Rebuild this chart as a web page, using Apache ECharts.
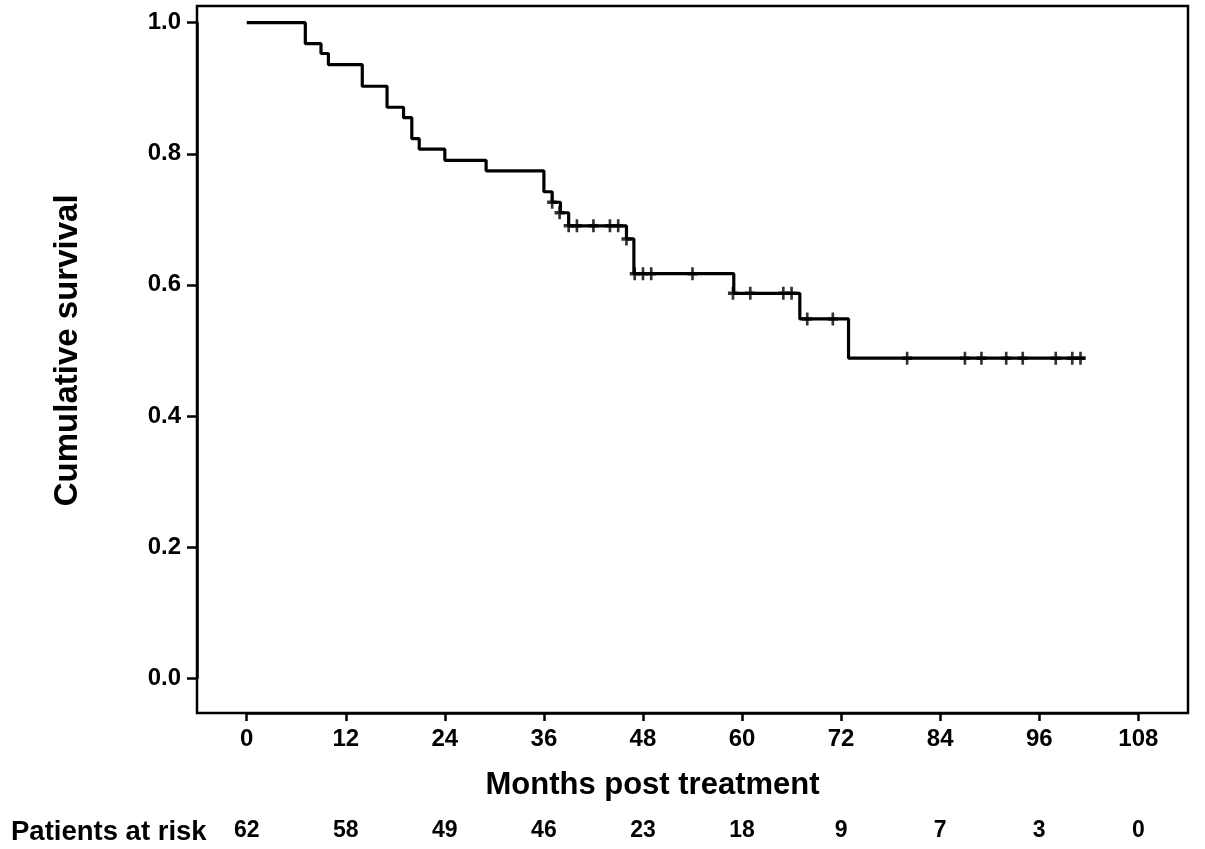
<!DOCTYPE html>
<html>
<head>
<meta charset="utf-8">
<script src="https://cdn.jsdelivr.net/npm/echarts@6/dist/echarts.min.js"></script>
<style>
html,body{margin:0;padding:0;background:#fff;}
#chart{width:1205px;height:849px;}
</style>
</head>
<body>
<div id="chart"></div>
<script>
// Kaplan-Meier step points: time (months) and survival after event
const stepTimes = [0, 7.1, 9.0, 9.9, 14.0, 17.0, 19.0, 20.0, 20.9, 24.0, 29.0, 36.0, 37.0, 38.0, 39.0, 46.0, 46.9, 59.0, 67.0, 72.9, 101.6];
const stepSurvival = [1.0, 0.968, 0.953, 0.936, 0.903, 0.871, 0.855, 0.823, 0.807, 0.790, 0.774, 0.742, 0.726, 0.710, 0.690, 0.670, 0.617, 0.587, 0.548, 0.488, 0.488];
// Censored observations
const censorTimes = [37.0, 37.9, 39.0, 40.0, 42.0, 44.0, 45.0, 46.0, 47.0, 48.0, 49.0, 54.0, 58.9, 61.0, 65.0, 66.0, 67.9, 71.0, 80.0, 87.0, 89.0, 92.0, 94.0, 98.0, 100.0, 101.0];
const censorSurvival = [0.726, 0.710, 0.690, 0.690, 0.690, 0.690, 0.690, 0.670, 0.617, 0.617, 0.617, 0.617, 0.587, 0.587, 0.587, 0.587, 0.548, 0.548, 0.488, 0.488, 0.488, 0.488, 0.488, 0.488, 0.488, 0.488];
// X ticks and patients at risk
const xTicks = [0, 12, 24, 36, 48, 60, 72, 84, 96, 108];
const atRisk = [62, 58, 49, 46, 23, 18, 9, 7, 3, 0];
const yTicks = ['0.0', '0.2', '0.4', '0.6', '0.8', '1.0'];

const FONT = '"Liberation Sans", Arial, sans-serif';
const chart = echarts.init(document.getElementById('chart'), null, {renderer: 'canvas'});

const lineData = stepTimes.map((t, i) => [t, stepSurvival[i]]);
const censorData = censorTimes.map((t, i) => [t, censorSurvival[i]]);

const option = {
  backgroundColor: '#fff',
  animation: false,
  title: {
    text: 'Patients at risk',
    left: 11, top: 818, padding: 0,
    textStyle: {fontFamily: FONT, fontWeight: 'bold', fontSize: 27.5, color: '#000'}
  },
  grid: [
    {left: 246.7, right: 1205 - 1138.3, top: 22.7, bottom: 849 - 678, containLabel: false},
    {left: 197, right: 1205 - 1188, top: 6, bottom: 849 - 713, show: true, borderColor: '#000', borderWidth: 2.5, backgroundColor: 'transparent'}
  ],
  xAxis: [
    {
      gridIndex: 0, type: 'value', min: 0, max: 108, interval: 12, position: 'bottom', offset: 35,
      axisLine: {show: true, onZero: false, lineStyle: {color: '#000', width: 2.5}},
      axisTick: {show: true, length: 8, lineStyle: {color: '#000', width: 2.5}},
      splitLine: {show: false},
      axisLabel: {margin: 14, fontFamily: FONT, fontWeight: 'bold', fontSize: 24, color: '#000',
        formatter: v => String(xTicks[Math.round(v / 12)])},
      name: 'Months post treatment', nameLocation: 'middle', nameGap: 57,
      nameTextStyle: {fontFamily: FONT, fontWeight: 'bold', fontSize: 31, color: '#000', padding: [0, 80, 0, 0]}
    },
    {
      gridIndex: 0, type: 'value', min: 0, max: 108, interval: 12, position: 'bottom', offset: 137,
      axisLine: {show: false, onZero: false}, axisTick: {show: false}, splitLine: {show: false},
      axisLabel: {margin: 4, fontFamily: FONT, fontWeight: 'bold', fontSize: 23, color: '#000',
        formatter: v => String(atRisk[Math.round(v / 12)])}
    },
    {gridIndex: 1, type: 'value', min: 0, max: 1, show: false}
  ],
  yAxis: [
    {
      gridIndex: 0, type: 'value', min: 0, max: 1, interval: 0.2, offset: 49.7,
      axisLine: {show: true, onZero: false, lineStyle: {color: '#000', width: 2.5}},
      axisTick: {show: true, length: 10, lineStyle: {color: '#000', width: 2.5}},
      splitLine: {show: false},
      axisLabel: {margin: 16, fontFamily: FONT, fontWeight: 'bold', fontSize: 24, color: '#000',
        formatter: v => yTicks[Math.round(v * 5)]},
      name: 'Cumulative survival', nameLocation: 'middle', nameGap: 113,
      nameTextStyle: {fontFamily: FONT, fontWeight: 'bold', fontSize: 33, color: '#000'}
    },
    {gridIndex: 1, type: 'value', min: 0, max: 1, show: false}
  ],
  series: [
    {
      type: 'line', xAxisIndex: 0, yAxisIndex: 0, step: 'end', data: lineData,
      symbol: 'none', lineStyle: {color: '#000', width: 3.2}, silent: true, z: 3
    },
    {
      type: 'scatter', xAxisIndex: 0, yAxisIndex: 0, data: censorData,
      symbol: 'path://M4.4,0H7.6V4.4H12V7.6H7.6V12H4.4V7.6H0V4.4H4.4Z',
      symbolSize: [10, 13], itemStyle: {color: '#000'}, silent: true, z: 4
    }
  ]
};
chart.setOption(option);
</script>
</body>
</html>
